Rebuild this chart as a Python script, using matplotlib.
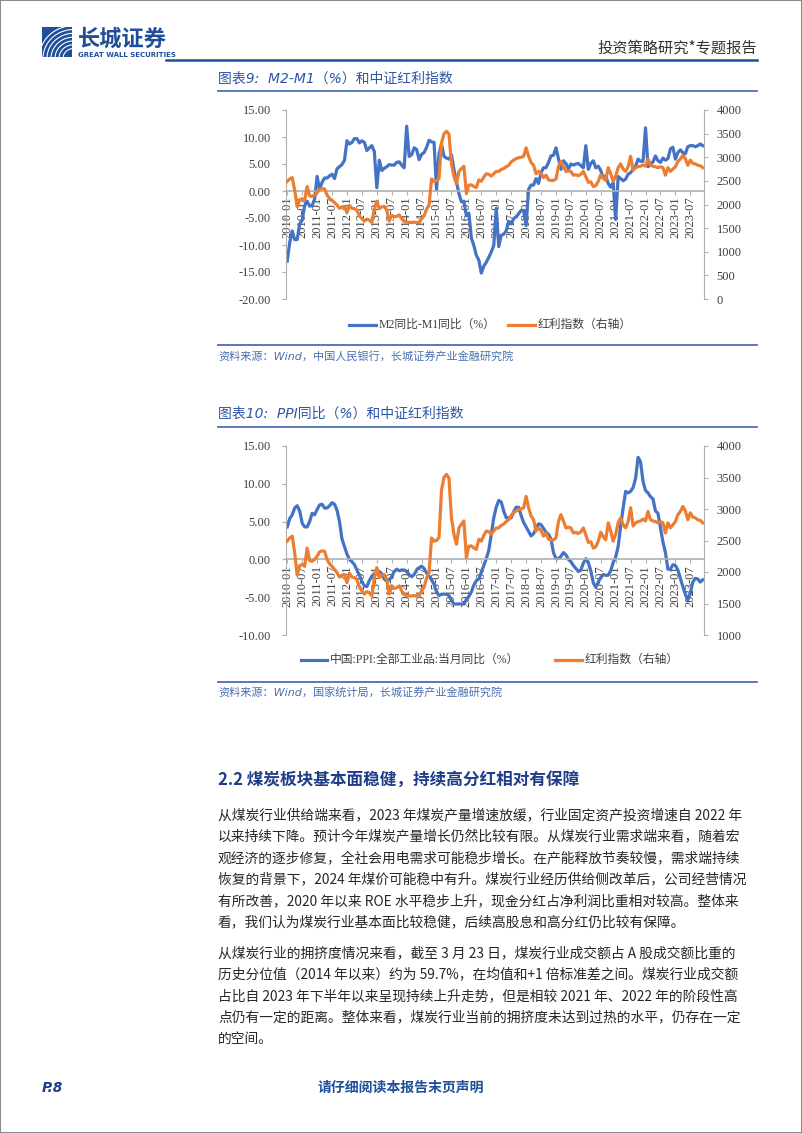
import matplotlib
matplotlib.use("Agg")
import numpy as np
import matplotlib.pyplot as plt
from matplotlib.lines import Line2D
from matplotlib.patches import Rectangle

plt.rcParams['font.family'] = ['Noto Sans CJK SC', 'DejaVu Sans']

W, H = 802, 1133
BLUE = '#4472C4'
ORANGE = '#ED7D31'
NAVY = '#1F4E9A'
AXIS_GRAY = '#B0B0B0'
TICK_FONT = ['Liberation Serif', 'Noto Sans CJK SC']

# ---- data (monthly, 2010-01 .. 2023-12) ----
x_labels = ['2010-01', '2010-07', '2011-01', '2011-07', '2012-01', '2012-07',
            '2013-01', '2013-07', '2014-01', '2014-07', '2015-01', '2015-07',
            '2016-01', '2016-07', '2017-01', '2017-07', '2018-01', '2018-07',
            '2019-01', '2019-07', '2020-01', '2020-07', '2021-01', '2021-07',
            '2022-01', '2022-07', '2023-01', '2023-07']

m2_minus_m1 = [
    -13.0, -9.5, -7.4, -9.0, -9.0, -6.1, -5.4, -2.7, -1.9, -2.8, -2.7, -1.5,
    2.7, 0.3, 1.6, 2.4, 2.4, 2.8, 3.1, 2.3, 4.1, 4.5, 4.9, 5.7,
    9.3, 8.7, 9.0, 9.7, 9.7, 8.9, 9.3, 9.0, 7.5, 8.0, 8.4, 7.3,
    0.6, 5.7, 3.8, 4.2, 4.5, 4.9, 4.8, 4.8, 5.3, 5.4, 4.8, 4.3,
    12.0, 6.4, 6.7, 8.0, 7.7, 5.8, 6.8, 7.1, 8.1, 9.4, 9.1, 9.0,
    0.2, 6.9, 8.7, 6.4, 6.1, 5.9, 6.7, 4.0, 1.7, -0.5, -2.0, -1.9,
    -4.6, -4.1, -8.7, -10.1, -11.9, -12.8, -15.2, -13.9, -13.2, -12.3, -11.3, -10.1,
    -3.2, -10.3, -8.2, -8.0, -7.4, -5.6, -6.1, -5.1, -4.8, -4.2, -3.6, -3.6,
    -6.4, 0.3, 1.1, 1.1, 2.3, 1.4, 3.4, 4.3, 4.3, 5.3, 6.5, 6.6,
    8.0, 6.0, 4.0, 5.6, 5.1, 4.1, 5.0, 4.8, 5.0, 5.1, 4.7, 4.3,
    8.4, 4.0, 5.1, 5.6, 4.3, 4.6, 3.8, 2.4, 2.8, 1.4, 0.7, 1.5,
    -5.3, 2.7, 2.3, 1.9, 2.2, 3.1, 3.4, 4.0, 4.6, 5.9, 5.5, 5.5,
    11.7, 4.5, 5.0, 5.4, 6.5, 5.6, 5.3, 6.1, 5.7, 6.0, 7.8, 8.1,
    5.9, 7.1, 7.6, 7.1, 6.9, 8.2, 8.4, 8.4, 8.2, 8.4, 8.7, 8.4,
]

ppi_yoy = [
    4.3, 5.4, 5.9, 6.8, 7.1, 6.4, 4.8, 4.3, 4.3, 5.0, 6.1, 5.9,
    6.6, 7.2, 7.3, 6.8, 6.8, 7.1, 7.5, 7.3, 6.5, 5.0, 2.7, 1.7,
    0.7, 0.0, -0.3, -0.7, -1.4, -2.1, -2.9, -3.5, -3.6, -2.8, -2.2, -1.9,
    -1.6, -1.6, -1.9, -2.6, -2.9, -2.7, -2.3, -1.6, -1.3, -1.5, -1.4, -1.4,
    -1.6, -2.0, -2.3, -2.0, -1.4, -1.1, -0.9, -1.2, -1.8, -2.2, -2.7, -3.3,
    -4.3, -4.8, -4.6, -4.6, -4.6, -4.8, -5.4, -5.9, -5.9, -5.9, -5.9, -5.9,
    -5.3, -4.9, -4.3, -3.4, -2.8, -2.6, -1.7, -0.8, 0.1, 1.2, 3.3, 5.5,
    6.9, 7.8, 7.6, 6.4, 5.5, 5.5, 5.5, 6.3, 6.9, 6.9, 5.8, 4.9,
    4.3, 3.7, 3.1, 3.4, 4.1, 4.7, 4.6, 4.1, 3.6, 3.3, 2.7, 0.9,
    0.1, 0.1, 0.4, 0.9, 0.6, 0.0, -0.3, -0.8, -1.2, -1.6, -1.4, -0.5,
    0.1, -0.4, -1.5, -3.1, -3.7, -3.0, -2.4, -2.0, -2.1, -2.1, -1.5, -0.4,
    0.3, 1.7, 4.4, 6.8, 9.0, 8.8, 9.0, 9.5, 10.7, 13.5, 12.9, 10.3,
    9.1, 8.8, 8.3, 8.0, 6.4, 6.1, 4.2, 2.3, 0.9, -1.3, -1.3, -0.7,
    -0.8, -1.4, -2.5, -3.6, -4.6, -5.4, -4.4, -3.0, -2.5, -2.6, -3.0, -2.7,
]

dividend_index = [
    2490, 2540, 2570, 2300, 1950, 2100, 2120, 2090, 2380, 2180, 2170, 2200,
    2250, 2320, 2335, 2330, 2200, 2130, 2090, 2040, 1990, 1920, 1950, 1960,
    1830, 1980, 1920, 1910, 1880, 1760, 1700, 1650, 1690, 1670, 1620, 1900,
    2070, 1910, 1950, 1960, 1880, 1650, 1770, 1740, 1750, 1780, 1700, 1640,
    1630, 1620, 1620, 1625, 1620, 1615, 1700, 1760, 1900, 1990, 2540, 2490,
    2500, 2550, 3300, 3500, 3550, 3490, 2860, 2600, 2440, 2700, 2760, 2810,
    2230, 2410, 2415, 2380, 2360, 2520, 2490, 2580, 2650, 2640, 2600, 2650,
    2700, 2700, 2740, 2760, 2800, 2830, 2900, 2940, 2970, 2990, 3000, 3020,
    3200, 3020, 2890, 2830, 2650, 2700, 2660, 2570, 2620, 2520, 2510, 2510,
    2540, 2800, 2910, 2810, 2700, 2710, 2700, 2620, 2630, 2610, 2640, 2700,
    2590, 2470, 2480, 2380, 2400, 2490, 2630, 2560, 2510, 2780, 2650, 2490,
    2600, 2780, 2860, 2750, 2700, 2800, 3020, 2730, 2780, 2800, 2810, 2840,
    2810, 2960, 2830, 2810, 2800, 2780, 2800, 2780, 2620, 2780, 2700, 2750,
    2800, 2910, 2960, 3040, 2970, 2830, 2940, 2870, 2860, 2830, 2820, 2780,
]

body_para1 = [
    "从煤炭行业供给端来看，2023 年煤炭产量增速放缓，行业固定资产投资增速自 2022 年",
    "以来持续下降。预计今年煤炭产量增长仍然比较有限。从煤炭行业需求端来看，随着宏",
    "观经济的逐步修复，全社会用电需求可能稳步增长。在产能释放节奏较慢，需求端持续",
    "恢复的背景下，2024 年煤价可能稳中有升。煤炭行业经历供给侧改革后，公司经营情况",
    "有所改善，2020 年以来 ROE 水平稳步上升，现金分红占净利润比重相对较高。整体来",
    "看，我们认为煤炭行业基本面比较稳健，后续高股息和高分红仍比较有保障。",
]
body_para2 = [
    "从煤炭行业的拥挤度情况来看，截至 3 月 23 日，煤炭行业成交额占 A 股成交额比重的",
    "历史分位值（2014 年以来）约为 59.7%，在均值和+1 倍标准差之间。煤炭行业成交额",
    "占比自 2023 年下半年以来呈现持续上升走势，但是相较 2021 年、2022 年的阶段性高",
    "点仍有一定的距离。整体来看，煤炭行业当前的拥挤度未达到过热的水平，仍存在一定",
    "的空间。",
]

fig = plt.figure(figsize=(W / 100, H / 100), dpi=100)


def fx(px):
    return px / W


def fy(py):
    return 1 - py / H


def hline(x0, x1, y, color, lw):
    fig.add_artist(Line2D([fx(x0), fx(x1)], [fy(y), fy(y)], color=color, lw=lw))


def put(x, y, s, **kw):
    kw.setdefault('va', 'center')
    return fig.text(fx(x), fy(y), s, **kw)


# page frame
fig.add_artist(Rectangle((0, 0), 1, 1, transform=fig.transFigure,
                         fill=False, ec='#8c8c8c', lw=1.5))

# ---- header ----
logo = fig.add_axes([fx(42), fy(57), fx(72) - fx(42), (57 - 27) / H])
logo.set_xlim(0, 1)
logo.set_ylim(0, 1)
logo.axis('off')
logo.add_patch(Rectangle((0, 0), 1, 1, color=NAVY))
for r in np.linspace(0.35, 1.15, 7):
    t = np.linspace(0, np.pi / 2, 40)
    logo.plot(1.05 - r * np.cos(t), -0.05 + r * np.sin(t) * 0.95, color='white', lw=0.8)
put(78, 39, "长城证券", fontsize=16, weight='bold', color=NAVY)
put(78, 55, "GREAT WALL SECURITIES", fontsize=5, weight='bold', color=NAVY,
    family='DejaVu Sans')
put(757, 48, "投资策略研究*专题报告", fontsize=11, color='#333333', ha='right')
hline(166, 757, 60, NAVY, 1.8)


def draw_chart(top, bottom, left_vals, left_lim, left_step, right_lim, right_step):
    ax = fig.add_axes([fx(286), fy(bottom), fx(704) - fx(286), (bottom - top) / H])
    x = np.arange(len(left_vals))
    ax.plot(x, left_vals, color=BLUE, lw=2.3, solid_joinstyle='round')
    ax.set_xlim(-0.5, len(left_vals) - 0.5)
    ax.set_ylim(*left_lim)
    ax.spines['top'].set_visible(False)
    ax.spines['right'].set_visible(False)
    ax.spines['left'].set_color(AXIS_GRAY)
    ax.spines['bottom'].set_color(AXIS_GRAY)
    ax.spines['bottom'].set_position(('data', 0))
    ax.spines['bottom'].set_linewidth(1.2)
    ax.tick_params(axis='y', direction='out', length=3, pad=8, color=AXIS_GRAY)
    ax.tick_params(axis='x', direction='out', length=3, pad=1, color=AXIS_GRAY,
                   labelrotation=90)
    yt = np.arange(left_lim[0], left_lim[1] + 0.01, left_step)
    ax.set_yticks(yt, ["%.2f" % v for v in yt], family=TICK_FONT, fontsize=9,
                  color='#404040')
    ax.set_xticks(list(range(0, 163, 6)), x_labels, family=TICK_FONT,
                  fontsize=9, color='#404040')
    for lab in ax.get_xticklabels():
        lab.set_rotation(90)
    ax.patch.set_alpha(0)

    ax2 = ax.twinx()
    ax2.plot(x, dividend_index, color=ORANGE, lw=2.3, solid_joinstyle='round')
    ax2.set_ylim(*right_lim)
    ax2.tick_params(axis='y', direction='out', length=3, pad=6, color=AXIS_GRAY)
    rt = np.arange(right_lim[0], right_lim[1] + 1, right_step)
    ax2.set_yticks(rt, ["%d" % v for v in rt], family=TICK_FONT, fontsize=9,
                   color='#404040')
    for s in ('top', 'left', 'bottom'):
        ax2.spines[s].set_visible(False)
    ax2.spines['right'].set_color(AXIS_GRAY)
    return ax, ax2


def legend_item(x0, x1, y, color, label):
    fig.add_artist(Line2D([fx(x0), fx(x1)], [fy(y), fy(y)], color=color, lw=2.3))
    put(x1 + 3, y, label, fontsize=8.5, color='#404040', family=TICK_FONT)


TITLE_COLOR = '#2F55A4'
SRC_COLOR = '#4A6FB0'
RULE_COLOR = '#4A6DB5'
ITALIC_FONT = ['DejaVu Sans', 'Noto Sans CJK SC']

# ---- chart 9 ----
put(218, 79, "图表9:  M2-M1（%）和中证红利指数", fontsize=10, color=TITLE_COLOR,
    style='italic', family=ITALIC_FONT)
hline(218, 757, 91, RULE_COLOR, 1.3)
draw_chart(110, 299, m2_minus_m1, (-20, 15), 5, (0, 4000), 500)
legend_item(349, 376, 325, BLUE, "M2同比-M1同比（%）")
legend_item(508, 535, 325, ORANGE, "红利指数（右轴）")
hline(218, 757, 345, RULE_COLOR, 1.3)
put(218, 356, "资料来源：Wind，中国人民银行，长城证券产业金融研究院", fontsize=8,
    color=SRC_COLOR, style='italic', family=ITALIC_FONT)

# ---- chart 10 ----
put(218, 414, "图表10:  PPI同比（%）和中证红利指数", fontsize=10, color=TITLE_COLOR,
    style='italic', family=ITALIC_FONT)
hline(218, 757, 427, RULE_COLOR, 1.3)
draw_chart(446, 635, ppi_yoy, (-10, 15), 5, (1000, 4000), 500)
legend_item(301, 327, 660, BLUE, "中国:PPI:全部工业品:当月同比（%）")
legend_item(555, 582, 660, ORANGE, "红利指数（右轴）")
hline(218, 757, 682, RULE_COLOR, 1.3)
put(218, 692, "资料来源：Wind，国家统计局，长城证券产业金融研究院", fontsize=8,
    color=SRC_COLOR, style='italic', family=ITALIC_FONT)

# ---- section text ----
put(218, 781, "2.2 煤炭板块基本面稳健，持续高分红相对有保障", fontsize=12,
    weight='bold', color='#1F3C88')
for i, line in enumerate(body_para1):
    put(218, 815 + 21.5 * i, line, fontsize=9.9, color='#262626')
for i, line in enumerate(body_para2):
    put(218, 953 + 21.5 * i, line, fontsize=9.9, color='#262626')

# ---- footer ----
put(42, 1088, "P.8", fontsize=10, weight='bold', style='italic', color='#1F3C88',
    family='DejaVu Sans')
put(401, 1088, "请仔细阅读本报告末页声明", fontsize=10, weight='bold', color=NAVY,
    ha='center')

fig.savefig('out.png', dpi=100)
